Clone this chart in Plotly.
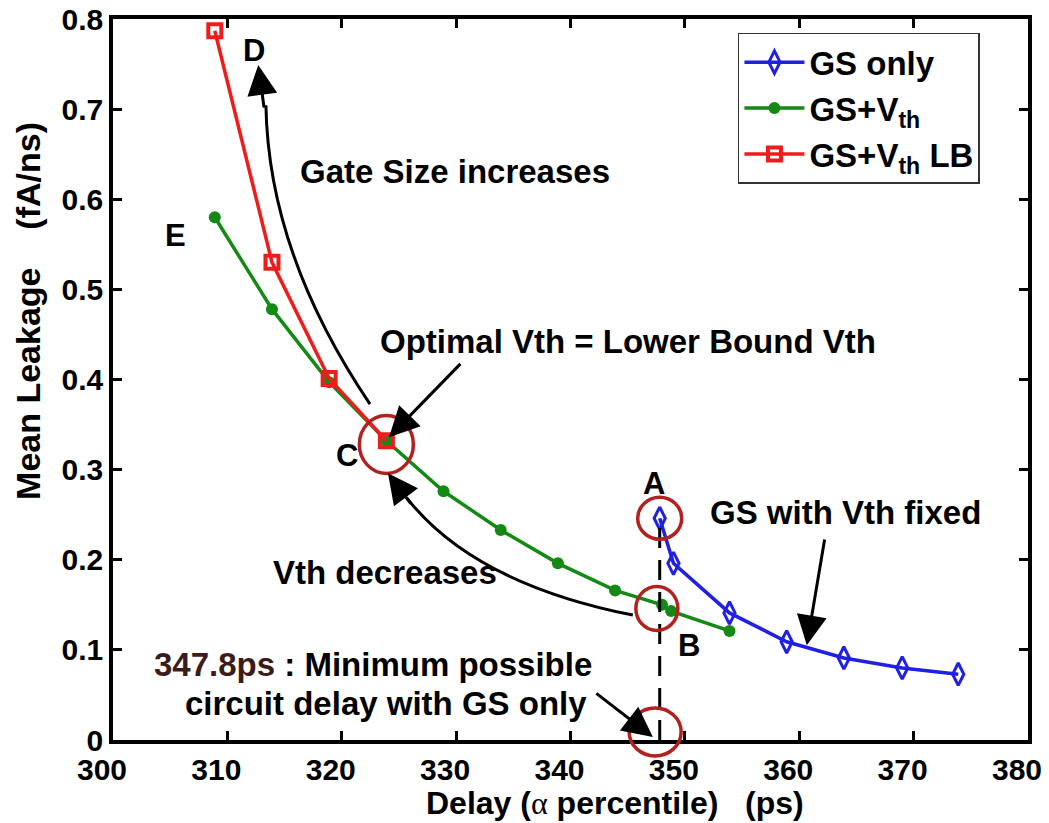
import plotly.graph_objects as go

# ---------------- data ----------------
delay_ticks = [300, 310, 320, 330, 340, 350, 360, 370, 380]
delay_tick_labels = ["300", "310", "320", "330", "340", "350", "360", "370", "380"]
leak_ticks = [0, 0.1, 0.2, 0.3, 0.4, 0.5, 0.6, 0.7, 0.8]
leak_tick_labels = ["0", "0.1", "0.2", "0.3", "0.4", "0.5", "0.6", "0.7", "0.8"]

gs_only_delay = [347.8, 349.0, 353.9, 358.9, 363.9, 369.0, 373.9]
gs_only_leak = [0.246, 0.196, 0.141, 0.109, 0.091, 0.080, 0.073]

gs_vth_delay = [308.9, 313.9, 318.9, 323.9, 328.9, 333.9, 338.9, 343.9, 348.0, 348.8, 353.9]
gs_vth_leak = [0.580, 0.478, 0.397, 0.332, 0.276, 0.233, 0.196, 0.166, 0.150, 0.143, 0.121]

gs_vth_lb_delay = [308.9, 313.9, 318.9, 323.9]
gs_vth_lb_leak = [0.787, 0.530, 0.401, 0.332]

min_delay = 347.8

FONT = "Liberation Sans, Arial, Helvetica, sans-serif"
BLUE = "#1f1fe6"
GREEN = "#138a13"
RED = "#ee1c1c"
CIRCLE = "#b3211f"
ANN_SIZE = 33
Y_MAX = 0.8

fig = go.Figure()

fig.add_trace(go.Scatter(
    x=gs_only_delay, y=gs_only_leak, name="GS only", mode="lines+markers",
    line=dict(color=BLUE, width=3.5),
    marker=dict(symbol="diamond-tall-open", size=16, color=BLUE, line=dict(color=BLUE, width=3)),
))
fig.add_trace(go.Scatter(
    x=gs_vth_delay, y=gs_vth_leak, name="GS+V<sub>th</sub>", mode="lines+markers",
    line=dict(color=GREEN, width=3.5),
    marker=dict(symbol="circle", size=12, color=GREEN),
))
fig.add_trace(go.Scatter(
    x=gs_vth_lb_delay, y=gs_vth_lb_leak, name="GS+V<sub>th</sub> LB", mode="lines+markers",
    line=dict(color=RED, width=3.5),
    marker=dict(symbol="square-open", size=13, color=RED, line=dict(color=RED, width=4)),
))

shapes = []
# dashed vertical line at minimum delay
shapes.append(dict(type="line", xref="x", yref="y", x0=min_delay, x1=min_delay,
                   y0=0, y1=gs_only_leak[0],
                   line=dict(color="black", width=3, dash="20px,12px")))

# red circles (pixel sized around anchors)
def circ(xa, ya, rx, ry, yref="y"):
    return dict(type="circle", xref="x", yref=yref, xsizemode="pixel", ysizemode="pixel",
                xanchor=xa, yanchor=ya, x0=-rx, x1=rx, y0=-ry, y1=ry,
                line=dict(color=CIRCLE, width=3.5))

shapes.append(circ(gs_only_delay[0], gs_only_leak[0], 22, 21))
shapes.append(circ(347.55, 0.146, 21, 22))
shapes.append(circ(gs_vth_lb_delay[-1], 0.328, 27, 29))
# bottom circle crosses the x axis -> paper y reference so it is not clipped
shapes.append(circ(347.4, 0.009 / Y_MAX, 26, 24, yref="paper"))

# curved arrow bodies (quadratic beziers in data coords)
shapes.append(dict(type="path", xref="x", yref="y",
                   path="M 322.47,0.3727 Q 313.59,0.5396 313.37,0.7044",
                   line=dict(color="black", width=3)))
shapes.append(dict(type="path", xref="x", yref="y",
                   path="M 345.45,0.1386 Q 331.56,0.1736 325.70,0.2684",
                   line=dict(color="black", width=3)))

annotations = []

def label(x, y, text, size=ANN_SIZE, xanchor="center"):
    annotations.append(dict(x=x, y=y, xref="x", yref="y", text=text, showarrow=False,
                            xanchor=xanchor, yanchor="middle",
                            font=dict(family=FONT, size=size, color="black", weight="bold")))

label(312.3, 0.765, "D", size=31)
label(305.5, 0.560, "E", size=31)
label(320.5, 0.316, "C", size=31)
label(347.3, 0.285, "A", size=31)
label(350.4, 0.105, "B", size=31)
label(329.9, 0.631, "Gate Size increases")
label(345.0, 0.4425, "Optimal Vth = Lower Bound Vth")
label(323.8, 0.186, "Vth decreases")
label(364.0, 0.252, "GS with Vth fixed")
label(322.7, 0.084, "<span style='color:#3b1c1c'>347.8ps</span> : Minimum possible")
label(323.9, 0.041, "circuit delay with GS only")

def arrow(x, y, ax, ay, axref="x", ayref="y"):
    annotations.append(dict(x=x, y=y, ax=ax, ay=ay, xref="x", yref="y",
                            axref=axref, ayref=ayref, text="", showarrow=True,
                            arrowhead=2, arrowsize=2.0, arrowwidth=3, arrowcolor="black"))

# arrowheads for the curved arrows (pixel-offset tails along the curve)
arrow(312.7, 0.749, 6, 44, axref="pixel", ayref="pixel")
arrow(324.04, 0.2961, 24, 32, axref="pixel", ayref="pixel")
# straight arrows
arrow(324.13, 0.336, 330.5, 0.419)
arrow(360.66, 0.105, 362.24, 0.224)
arrow(347.2, 0.0033, 342.13, 0.053)

# axis titles
annotations.append(dict(x=0.549, y=-0.087, xref="paper", yref="paper", showarrow=False,
                        text="Delay (<span style=\"font-family:'Liberation Serif';font-weight:normal\">α</span> percentile)\u00a0\u00a0\u00a0(ps)",
                        xanchor="center", yanchor="middle",
                        font=dict(family=FONT, size=32, color="black", weight="bold")))
annotations.append(dict(x=-0.093, y=0.595, xref="paper", yref="paper", showarrow=False,
                        text="Mean\u00a0Leakage\u00a0\u00a0\u00a0\u00a0(fA/ns)", textangle=-90,
                        xanchor="center", yanchor="middle",
                        font=dict(family=FONT, size=34, color="black", weight="bold")))

axis_common = dict(showgrid=False, zeroline=False, showline=True, linecolor="black",
                   linewidth=3.5, mirror="ticks", ticks="inside", ticklen=9, tickwidth=3,
                   tickcolor="black", ticklabeloverflow="allow", automargin=False,
                   tickfont=dict(family=FONT, size=30, color="black", weight="bold"))

fig.update_layout(
    width=1049, height=823, autosize=False,
    margin=dict(l=113, r=21, t=19, b=83),
    paper_bgcolor="white", plot_bgcolor="white",
    font=dict(family=FONT, color="black", weight="bold"),
    xaxis=dict(range=[300, 380], tickvals=delay_ticks, ticktext=delay_tick_labels,
               ticklabelshift=-11, **axis_common),
    yaxis=dict(range=[0, Y_MAX], tickvals=leak_ticks, ticktext=leak_tick_labels, **axis_common),
    legend=dict(x=0.683, y=0.981, xanchor="left", yanchor="top",
                bgcolor="white", bordercolor="#333333", borderwidth=1.5,
                font=dict(family=FONT, size=33, color="black", weight="bold"),
                itemwidth=60, tracegroupgap=0),
    shapes=shapes,
    annotations=annotations,
    showlegend=True,
)

fig.write_html("out.html", config={"displayModeBar": False},
               post_script="document.body.style.margin='0px';")
